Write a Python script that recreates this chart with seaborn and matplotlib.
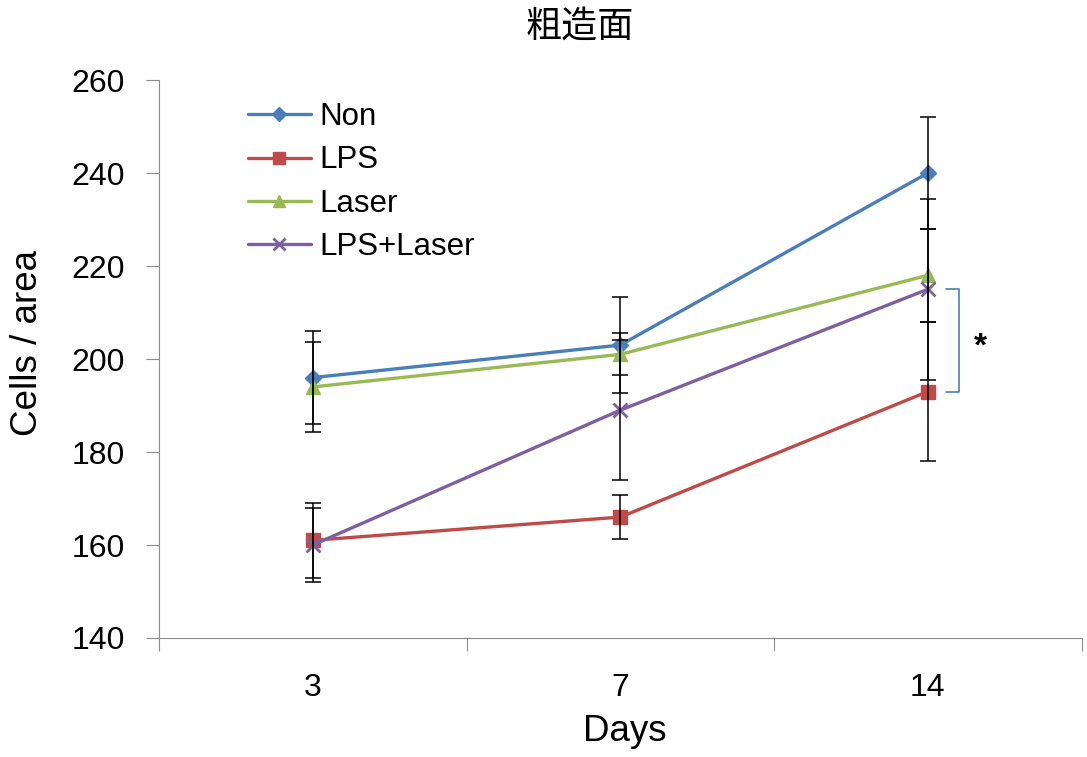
import matplotlib
matplotlib.use("Agg")
import matplotlib.pyplot as plt
import seaborn as sns
import pandas as pd

# Data
days = ["3", "7", "14"]
series_names = ["Non", "LPS", "Laser", "LPS+Laser"]
non_mean = [196, 203, 240]
non_err = [10, 10.3, 12]
lps_mean = [161, 166, 193]
lps_err = [8, 4.7, 15]
laser_mean = [194, 201, 218]
laser_err = [9.6, 4.5, 10]
lpslaser_mean = [160, 189, 215]
lpslaser_err = [8, 15, 19.5]
yticks = [140, 160, 180, 200, 220, 240, 260]

colors = {"Non": "#4A7EBB", "LPS": "#BE4B48", "Laser": "#98B954", "LPS+Laser": "#7D60A0"}
markers = {"Non": "D", "LPS": "s", "Laser": "^", "LPS+Laser": "x"}
msizes = {"Non": 8.5, "LPS": 10.5, "Laser": 10.5, "LPS+Laser": 10}

means = [non_mean, lps_mean, laser_mean, lpslaser_mean]
errs = [non_err, lps_err, laser_err, lpslaser_err]

rows = []
for name, m, e in zip(series_names, means, errs):
    for d, v, s in zip(days, m, e):
        rows.append({"Days": d, "value": v, "err": s, "group": name})
df = pd.DataFrame(rows)

sns.set_theme(style="white")
plt.rcParams["font.family"] = ["Liberation Sans", "Noto Sans CJK JP", "DejaVu Sans"]
plt.rcParams["text.color"] = "black"
plt.rcParams["xtick.color"] = "black"
plt.rcParams["ytick.color"] = "black"
plt.rcParams["axes.labelcolor"] = "black"

fig = plt.figure(figsize=(10.87, 7.57), dpi=100)
ax = fig.add_axes([0.1463, 0.1572, 0.8487, 0.7371])

spine_col = "#8C8C8C"

# Lines with markers
for name in series_names:
    sub = df[df["group"] == name]
    sns.lineplot(data=sub, x="Days", y="value", ax=ax, color=colors[name],
                 linewidth=2.4, marker=markers[name], markersize=msizes[name],
                 markeredgewidth=2 if name == "LPS+Laser" else 1,
                 markeredgecolor=colors[name], label=name, sort=False,
                 errorbar=None, zorder=3)
    # error bars
    ax.errorbar(sub["Days"], sub["value"], yerr=sub["err"], fmt="none",
                ecolor="black", elinewidth=1.1, capsize=5.5, capthick=1.1,
                zorder=4)

handles, labels = ax.get_legend_handles_labels()
if ax.get_legend() is not None:
    ax.get_legend().remove()

ax.set_xlim(-0.5, 2.5)
ax.set_ylim(140, 260)
ax.set_yticks(yticks)

# Category boundaries as ticks, labels centered under each category
ax.set_xticks([-0.5, 0.5, 1.5, 2.5])
ax.set_xticklabels([])
ax.set_xticks([0, 1, 2], minor=True)
ax.set_xticklabels(days, minor=True)
ax.tick_params(axis="x", which="major", length=9.5, width=0.8, color=spine_col, direction="out")
ax.tick_params(axis="x", which="minor", length=0, pad=25, labelsize=23)
ax.tick_params(axis="y", length=9.5, width=0.8, color=spine_col, direction="out",
               pad=15, labelsize=23)
ax.tick_params(bottom=True, left=True)

for side in ["top", "right"]:
    ax.spines[side].set_visible(False)
for side in ["left", "bottom"]:
    ax.spines[side].set_color(spine_col)
    ax.spines[side].set_linewidth(0.8)

ax.set_xlabel("Days", fontsize=26.5)
ax.set_ylabel("Cells / area", fontsize=26.5)
ax.xaxis.set_label_coords(0.505, -0.136)
ax.yaxis.set_label_coords(-0.1235, 0.529)

# Legend
fig.legend(handles, labels, loc="upper left",
           bbox_to_anchor=(248 / 1087, 1 - 102 / 757),
           frameon=False, fontsize=22.5, handlelength=2.0,
           handletextpad=0.3, labelspacing=0.43, borderpad=0,
           borderaxespad=0, markerscale=0.8)

# Significance bracket between LPS+Laser and LPS at day 14
top_v = lpslaser_mean[2]
bot_v = lps_mean[2]
bx0, bx1 = 2.058, 2.103
ax.plot([bx0, bx1, bx1, bx0], [top_v, top_v, bot_v, bot_v],
        color="#4A7EBB", linewidth=1.2, clip_on=False)
ax.text(2.17, (top_v + bot_v) / 2 - 1.5, "*", fontsize=24, fontweight="bold",
        ha="center", va="center")

fig.text(580 / 1087, 1 - 27 / 757, "粗造面", fontsize=26, ha="center", va="center",
         family=["Noto Sans CJK JP", "DejaVu Sans"])

fig.savefig("out.png", dpi=100, facecolor="white")
